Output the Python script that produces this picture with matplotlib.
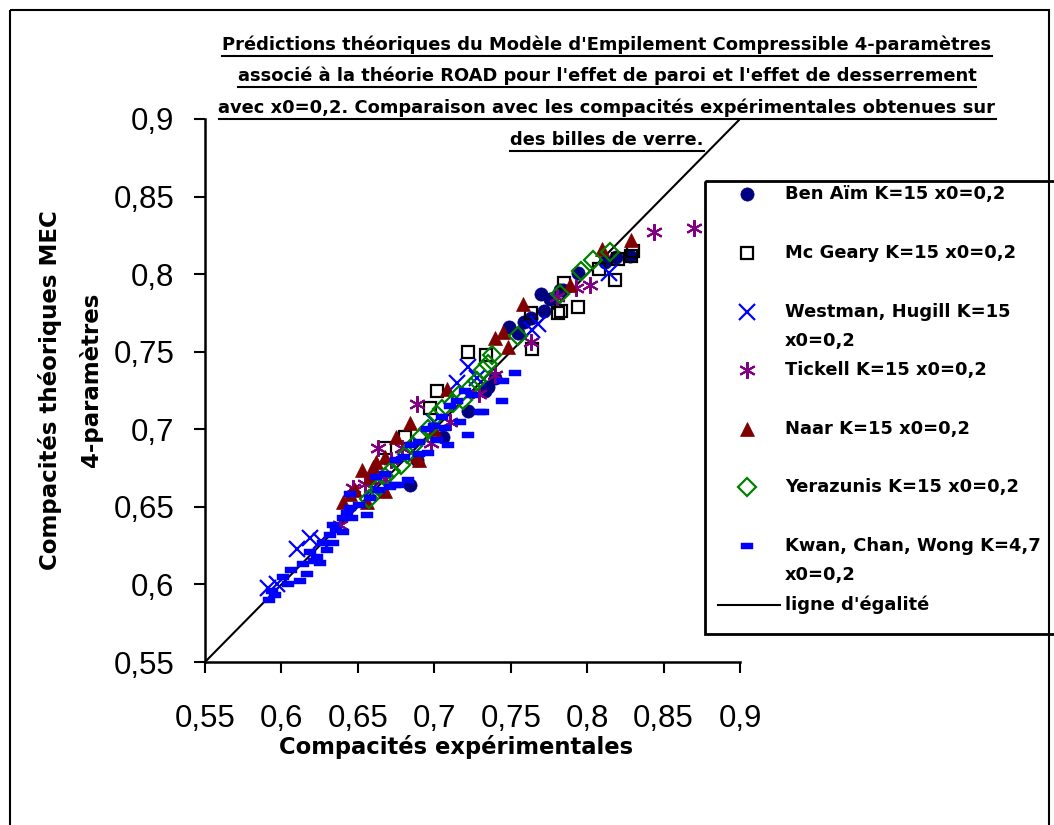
import matplotlib
matplotlib.use("Agg")
import matplotlib.pyplot as plt
from matplotlib.patches import Rectangle
from matplotlib.ticker import FuncFormatter

# --- data ---
ben_aim_x = [0.684, 0.689, 0.706, 0.722, 0.733, 0.735, 0.740, 0.749, 0.755, 0.759,
             0.763, 0.770, 0.772, 0.776, 0.782, 0.784, 0.794, 0.812, 0.819, 0.828]
ben_aim_y = [0.664, 0.680, 0.695, 0.712, 0.725, 0.727, 0.733, 0.766, 0.762, 0.769,
             0.772, 0.787, 0.776, 0.784, 0.790, 0.790, 0.801, 0.808, 0.811, 0.812]

mc_geary_x = [0.668, 0.681, 0.697, 0.702, 0.722, 0.734, 0.764, 0.763, 0.781, 0.783,
              0.794, 0.785, 0.808, 0.818, 0.820, 0.829, 0.830]
mc_geary_y = [0.688, 0.695, 0.714, 0.725, 0.750, 0.748, 0.752, 0.775, 0.775, 0.776,
              0.779, 0.794, 0.803, 0.796, 0.810, 0.812, 0.815]

westman_x = [0.591, 0.597, 0.610, 0.619, 0.626, 0.660, 0.700, 0.715, 0.722, 0.728,
             0.764, 0.768, 0.814]
westman_y = [0.598, 0.600, 0.623, 0.630, 0.628, 0.662, 0.705, 0.730, 0.740, 0.733,
             0.764, 0.768, 0.801]

tickell_x = [0.638, 0.647, 0.655, 0.663, 0.668, 0.672, 0.679, 0.689, 0.698, 0.710,
             0.729, 0.740, 0.763, 0.780, 0.793, 0.802, 0.844, 0.870]
tickell_y = [0.638, 0.662, 0.665, 0.688, 0.668, 0.680, 0.688, 0.716, 0.691, 0.705,
             0.723, 0.735, 0.756, 0.785, 0.791, 0.793, 0.827, 0.830]

naar_x = [0.640, 0.645, 0.648, 0.653, 0.656, 0.658, 0.660, 0.662, 0.668, 0.668,
          0.675, 0.684, 0.689, 0.690, 0.700, 0.708, 0.740, 0.745, 0.748, 0.758,
          0.789, 0.810, 0.829]
naar_y = [0.653, 0.658, 0.661, 0.674, 0.653, 0.669, 0.676, 0.679, 0.660, 0.682,
          0.695, 0.704, 0.683, 0.680, 0.700, 0.726, 0.759, 0.763, 0.753, 0.781,
          0.793, 0.816, 0.822]

yerazunis_x = [0.657, 0.664, 0.668, 0.672, 0.678, 0.682, 0.686, 0.691, 0.696, 0.702,
               0.705, 0.712, 0.716, 0.719, 0.724, 0.728, 0.732, 0.735, 0.738, 0.755,
               0.782, 0.796, 0.804, 0.815]
yerazunis_y = [0.655, 0.663, 0.669, 0.673, 0.677, 0.684, 0.689, 0.695, 0.700, 0.709,
               0.713, 0.717, 0.722, 0.719, 0.727, 0.731, 0.738, 0.742, 0.748, 0.760,
               0.787, 0.802, 0.809, 0.814]

kwan_x = [0.592, 0.594, 0.596, 0.601, 0.604, 0.606, 0.612, 0.614, 0.617, 0.619,
          0.621, 0.623, 0.625, 0.627, 0.630, 0.632, 0.634, 0.634, 0.636, 0.640,
          0.640, 0.643, 0.645, 0.645, 0.646, 0.651, 0.656, 0.658, 0.662, 0.664,
          0.668, 0.671, 0.674, 0.676, 0.675, 0.680, 0.683, 0.685, 0.690, 0.690,
          0.695, 0.696, 0.700, 0.702, 0.705, 0.707, 0.709, 0.710, 0.715, 0.717,
          0.720, 0.722, 0.725, 0.730, 0.732, 0.744, 0.745, 0.753]
kwan_y = [0.590, 0.596, 0.593, 0.605, 0.600, 0.609, 0.602, 0.613, 0.607, 0.621,
          0.615, 0.618, 0.614, 0.627, 0.622, 0.632, 0.627, 0.638, 0.635, 0.634,
          0.643, 0.646, 0.649, 0.658, 0.643, 0.651, 0.645, 0.656, 0.669, 0.661,
          0.671, 0.663, 0.664, 0.664, 0.680, 0.682, 0.667, 0.690, 0.692, 0.684,
          0.700, 0.685, 0.702, 0.693, 0.708, 0.701, 0.690, 0.715, 0.718, 0.705,
          0.725, 0.696, 0.722, 0.711, 0.711, 0.718, 0.731, 0.736]

equality_x = [0.55, 0.9]
equality_y = [0.55, 0.9]

ticks = [0.55, 0.6, 0.65, 0.7, 0.75, 0.8, 0.85, 0.9]

title_lines = [
    "Prédictions théoriques du Modèle d'Empilement Compressible 4-paramètres",
    "associé à la théorie ROAD pour l'effet de paroi et l'effet de desserrement",
    "avec x0=0,2. Comparaison avec les compacités expérimentales obtenues sur",
    "des billes de verre.",
]
legend_labels = [
    ["Ben Aïm K=15 x0=0,2"],
    ["Mc Geary K=15 x0=0,2"],
    ["Westman, Hugill K=15", "x0=0,2"],
    ["Tickell K=15 x0=0,2"],
    ["Naar K=15 x0=0,2"],
    ["Yerazunis K=15 x0=0,2"],
    ["Kwan, Chan, Wong K=4,7", "x0=0,2"],
]

W, H = 1054, 825
BOLD = dict(family="DejaVu Sans", weight="bold")

# Excel-like "dash" marker: a short filled bar
dash = [(-1, -0.42), (1, -0.42), (1, 0.42), (-1, 0.42), (-1, -0.42)]

styles = [
    dict(marker="o", ms=9.5, mfc="#000080", mec="#000080", mew=0.5),
    dict(marker="s", ms=9, mfc="none", mec="black", mew=1.6),
    dict(marker="x", ms=11, mec="#0000FF", mew=1.6),
    dict(marker=(6, 2, 0), ms=12, mec="#800080", mew=1.5),
    dict(marker="^", ms=10.5, mfc="#800000", mec="#800000", mew=0.5),
    dict(marker="D", ms=9, mfc="none", mec="#008000", mew=1.6),
    dict(marker=dash, ms=9, mfc="#0000FF", mec="#0000FF", mew=0.3),
]
series = [
    (ben_aim_x, ben_aim_y),
    (mc_geary_x, mc_geary_y),
    (westman_x, westman_y),
    (tickell_x, tickell_y),
    (naar_x, naar_y),
    (yerazunis_x, yerazunis_y),
    (kwan_x, kwan_y),
]

fig = plt.figure(figsize=(W / 100, H / 100), dpi=100)
ax = fig.add_axes([205 / W, 1 - 662 / H, 535 / W, 543 / H])

ax.plot(equality_x, equality_y, color="black", lw=1.5, zorder=1)
for (sx, sy), st in zip(series, styles):
    ax.plot(sx, sy, ls="none", zorder=3, clip_on=False, **st)

ax.set_xlim(0.55, 0.9)
ax.set_ylim(0.55, 0.9)
ax.set_xticks(ticks)
ax.set_yticks(ticks)
comma = FuncFormatter(lambda v, p: f"{v:g}".replace(".", ","))
ax.xaxis.set_major_formatter(comma)
ax.yaxis.set_major_formatter(comma)
for side in ["top", "right"]:
    ax.spines[side].set_visible(False)
for side in ["left", "bottom"]:
    ax.spines[side].set_linewidth(1.8)
ax.tick_params(direction="out", length=8, width=1.5, labelsize=22.5)
ax.tick_params(axis="x", pad=22)
ax.tick_params(axis="y", pad=14)
for lab in ax.get_xticklabels() + ax.get_yticklabels():
    lab.set_family("Liberation Sans")

# overlay in pixel coordinates for title, labels, legend and frame
ov = fig.add_axes([0, 0, 1, 1], zorder=5)
ov.set_xlim(0, W)
ov.set_ylim(H, 0)
ov.axis("off")
ov.patch.set_alpha(0)

ov.add_patch(Rectangle((10, 10), 1039, 830, fill=False, lw=1.5,
                       ec="black", clip_on=False))

ov.text(456, 747, "Compacités expérimentales", fontsize=16.3,
        ha="center", va="center", **BOLD)
ov.text(50, 390, "Compacités théoriques MEC", fontsize=16.5, rotation=90,
        ha="center", va="center", **BOLD)
ov.text(91, 380, "4-paramètres", fontsize=16.5, rotation=90,
        ha="center", va="center", **BOLD)

title_y = [45, 76, 108, 140]
title_texts = []
for line, ty in zip(title_lines, title_y):
    t = ov.text(607, ty, line, fontsize=12.9, ha="center", va="center", **BOLD)
    title_texts.append(t)

# legend
ov.add_patch(Rectangle((705, 181), 400, 453, fill=False, lw=2,
                       ec="black", clip_on=False))
legend_y = [194, 253, 312, 370, 429, 487, 546]
for labels, ly, st in zip(legend_labels, legend_y, styles):
    ov.plot([747], [ly], ls="none", clip_on=False, **st)
    for i, lab in enumerate(labels):
        ov.text(785, ly + i * 29, lab, fontsize=12.9, ha="left",
                va="center", **BOLD)
ov.plot([718, 780], [605, 605], color="black", lw=1.5)
ov.text(785, 605, "ligne d'égalité", fontsize=12.9, ha="left",
        va="center", **BOLD)

# underline the title lines
fig.canvas.draw()
renderer = fig.canvas.get_renderer()
for t in title_texts:
    bb = t.get_window_extent(renderer)
    uy = H - bb.y0 + 2
    ov.plot([bb.x0, bb.x1], [uy, uy], color="black", lw=1.5)

fig.savefig("out.png", dpi=100)
